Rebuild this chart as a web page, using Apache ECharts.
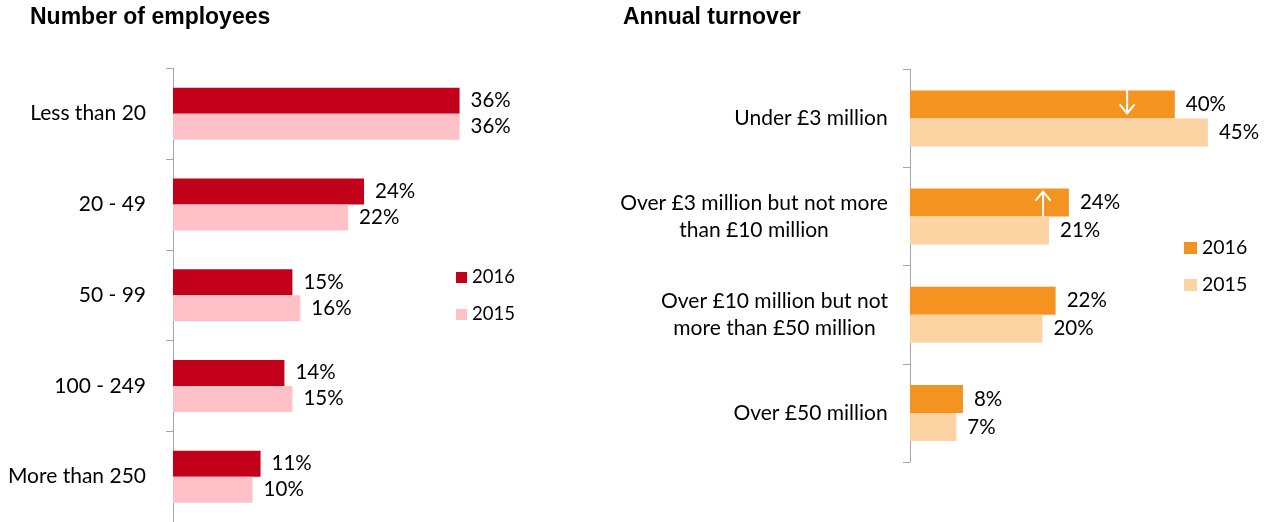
<!DOCTYPE html>
<html>
<head>
<meta charset="utf-8">
<script src="https://cdn.jsdelivr.net/npm/echarts@6/dist/echarts.min.js"></script>
<style>
  html, body { margin: 0; padding: 0; background: #fff; }
  #chart { width: 1271px; height: 522px; }
</style>
</head>
<body>
<div id="chart"></div>
<script>
// number of employees
const employeeBands = ['Less than 20', '20 - 49', '50 - 99', '100 - 249', 'More than 250'];
const employees2016 = [36, 24, 15, 14, 11];
const employees2015 = [36, 22, 16, 15, 10];

// annual turnover
const turnoverBands = [
  'Under £3 million',
  'Over £3 million but not more\nthan £10 million',
  'Over £10 million but not\nmore than £50 million',
  'Over £50 million'
];
const turnover2016 = [40, 24, 22, 8];
const turnover2015 = [45, 21, 20, 7];

// change arrows on the 2016 turnover bars: [category index, value where drawn, direction]
const turnoverArrows = [[0, 32.8, 'down'], [1, 20.1, 'up']];

const FONT = 'Lato';
const LABEL_SIZE = 21;
const AXIS_GREY = '#a6a6a6';
const TURN_BAR = 28;

// multi-line category labels: lines centred on each other, block right-aligned
const ctx = document.createElement('canvas').getContext('2d');
ctx.font = `${LABEL_SIZE}px ${FONT}`;
const turnoverRich = {};
turnoverBands.forEach((name, i) => {
  const w = Math.max(...name.split('\n').map(l => ctx.measureText(l).width));
  turnoverRich['c' + i] = {
    width: Math.ceil(w),
    align: 'center',
    fontSize: LABEL_SIZE,
    fontFamily: FONT,
    color: '#000',
    lineHeight: 27
  };
});

const valueLabel = {
  show: true,
  position: 'right',
  distance: 11,
  fontSize: 20.5,
  fontFamily: FONT,
  color: '#000',
  formatter: p => p.value + '%'
};

const catAxis = (gridIndex, data, extra) => Object.assign({
  type: 'category',
  gridIndex: gridIndex,
  data: data,
  inverse: true,
  axisLine: { lineStyle: { color: AXIS_GREY, width: 1 } },
  axisTick: { show: true, length: 7, lineStyle: { color: AXIS_GREY } },
  axisLabel: { fontSize: LABEL_SIZE, fontFamily: FONT, color: '#000' }
}, extra);

// thin white arrow inside the 2016 bar (upper half of the band)
const renderArrow = (params, api) => {
  const p = api.coord([api.value(0), api.value(1)]);
  const down = api.value(2) > 0;
  const x = p[0];
  const barTop = p[1] - TURN_BAR;
  const tail = down ? barTop : p[1];
  const tip = down ? barTop + 23 : p[1] - 25;
  const back = down ? tip - 9 : tip + 9;
  const st = { stroke: '#fff', lineWidth: 2, fill: null };
  return {
    type: 'group',
    children: [
      { type: 'line', shape: { x1: x, y1: tail, x2: x, y2: tip }, style: st },
      { type: 'polyline', shape: { points: [[x - 7.5, back], [x, tip], [x + 7.5, back]] }, style: st }
    ]
  };
};

const myChart = echarts.init(document.getElementById('chart'), null, { renderer: 'canvas' });

const titleStyle = { fontFamily: 'Liberation Sans', fontWeight: 'bold', fontSize: 23, color: '#000' };

const chartsOption = {
  animation: false,
  title: [
    { text: 'Number of employees', left: 30, top: 6, padding: 0, textStyle: titleStyle },
    { text: 'Annual turnover', left: 623, top: 6, padding: 0, textStyle: titleStyle }
  ],
  legend: [
    {
      data: ['emp2016', 'emp2015'],
      orient: 'vertical',
      left: 456,
      top: 268,
      padding: 0,
      itemWidth: 11,
      itemHeight: 11,
      itemGap: 18,
      icon: 'rect',
      formatter: name => name.slice(-4),
      textStyle: { fontSize: 18.5, fontFamily: FONT, color: '#000', lineHeight: 18 }
    },
    {
      data: ['turn2016', 'turn2015'],
      orient: 'vertical',
      left: 1184,
      top: 238,
      padding: 0,
      itemWidth: 13,
      itemHeight: 12,
      itemGap: 17,
      icon: 'rect',
      formatter: name => name.slice(-4),
      textStyle: { fontSize: 19.5, fontFamily: FONT, color: '#000', lineHeight: 19.5 }
    }
  ],
  grid: [
    { left: 173, top: 68.3, width: 398, height: 454 },
    { left: 910, top: 69.3, width: 331, height: 392.7 }
  ],
  xAxis: [
    { type: 'value', gridIndex: 0, min: 0, max: 50, show: false },
    { type: 'value', gridIndex: 1, min: 0, max: 50, show: false }
  ],
  yAxis: [
    catAxis(0, employeeBands, {
      axisLabel: { fontSize: LABEL_SIZE, fontFamily: FONT, color: '#000', margin: 27, align: 'right' }
    }),
    catAxis(1, turnoverBands, {
      axisLabel: {
        margin: 22,
        align: 'right',
        formatter: (value, idx) => value.split('\n').map(l => `{c${idx}|${l}}`).join('\n'),
        rich: turnoverRich
      }
    })
  ],
  series: [
    {
      name: 'emp2016', type: 'bar', xAxisIndex: 0, yAxisIndex: 0,
      barWidth: 26, barGap: '0%',
      itemStyle: { color: '#c3001a' },
      label: valueLabel,
      data: employees2016
    },
    {
      name: 'emp2015', type: 'bar', xAxisIndex: 0, yAxisIndex: 0,
      barWidth: 26, barGap: '0%',
      itemStyle: { color: '#ffc0c8' },
      label: valueLabel,
      data: employees2015
    },
    {
      name: 'turn2016', type: 'bar', xAxisIndex: 1, yAxisIndex: 1,
      barWidth: TURN_BAR, barGap: '0%',
      itemStyle: { color: '#f59320' },
      label: valueLabel,
      data: turnover2016
    },
    {
      name: 'turn2015', type: 'bar', xAxisIndex: 1, yAxisIndex: 1,
      barWidth: TURN_BAR, barGap: '0%',
      itemStyle: { color: '#fcd4a4' },
      label: valueLabel,
      data: turnover2015
    },
    {
      name: 'arrows', type: 'custom', xAxisIndex: 1, yAxisIndex: 1,
      silent: true,
      clip: false,
      z: 5,
      renderItem: renderArrow,
      data: turnoverArrows.map(([cat, at, dir]) => [at, cat, dir === 'down' ? 1 : -1])
    }
  ]
};

myChart.setOption(chartsOption);
window.addEventListener('resize', () => {
  myChart.resize();
});
</script>
</body>
</html>
